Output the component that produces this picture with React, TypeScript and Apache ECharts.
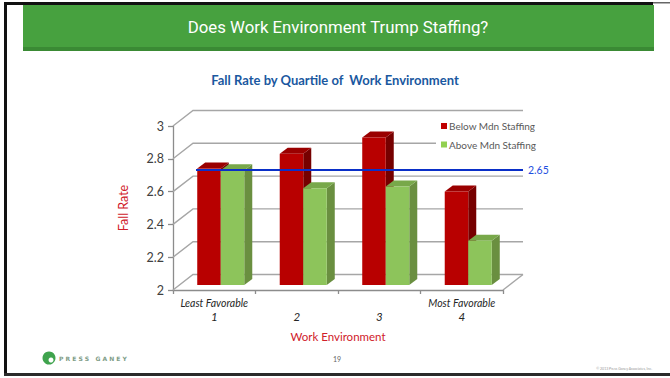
import React, { useEffect, useRef } from "react";
import * as echarts from "echarts";

const categories = ["1", "2", "3", "4"];
const categoryTopLabels = ["Least Favorable", "", "", "Most Favorable"];
const belowMdn = [2.71, 2.8, 2.9, 2.57];
const aboveMdn = [2.7, 2.59, 2.6, 2.27];
const yTicks = [2, 2.2, 2.4, 2.6, 2.8, 3];
const refValue = 2.65;

const FONT = "Lato, 'Open Sans', sans-serif";
const WALL_DX = 20;
const WALL_DY = -15.5;
const BAR_DX = 8;
const BAR_DY = -6;
const PLANE_DX = 6.5;
const PLANE_DY = -5;

function barRenderer(isRight: boolean, front: string, top: string, side: string) {
  return (params: any, api: any) => {
    const i = api.value(0);
    const v = api.value(1);
    const p = api.coord([i, v]);
    const b = api.coord([i, yTicks[0]]);
    const bw = api.size([1, 0])[0];
    const w = bw * 0.285;
    const cx = p[0] + PLANE_DX;
    const xL = isRight ? cx : cx - w;
    const xR = xL + w;
    const ty = p[1] + PLANE_DY;
    const by = b[1] + PLANE_DY;
    return {
      type: "group",
      children: [
        {
          type: "polygon",
          shape: { points: [[xR, ty], [xR + BAR_DX, ty + BAR_DY], [xR + BAR_DX, by + BAR_DY], [xR, by]] },
          style: { fill: side },
        },
        {
          type: "polygon",
          shape: { points: [[xL, ty], [xL + BAR_DX, ty + BAR_DY], [xR + BAR_DX, ty + BAR_DY], [xR, ty]] },
          style: { fill: top },
        },
        {
          type: "rect",
          shape: { x: xL, y: ty, width: w, height: by - ty },
          style: { fill: front },
        },
      ],
    };
  };
}

export default function App() {
  const ref = useRef<HTMLDivElement>(null);
  useEffect(() => {
    if (!ref.current) return;
    const chart = echarts.init(ref.current, undefined, { renderer: "svg" });
    const option: any = {
      animation: false,
      backgroundColor: "#ffffff",
      title: {
        text: "Fall Rate by Quartile of  Work Environment",
        left: "center",
        top: 68,
        textStyle: { fontFamily: FONT, fontSize: 13, fontWeight: "bold", color: "#1A58A0" },
      },
      legend: {
        data: ["Below Mdn Staffing", "Above Mdn Staffing"],
        orient: "vertical",
        left: 436,
        top: 118,
        padding: [3, 4, 3, 5],
        itemGap: 8.5,
        itemWidth: 6,
        itemHeight: 6,
        icon: "rect",
        backgroundColor: "#ffffff",
        textStyle: { fontFamily: FONT, fontSize: 10, color: "#595959", padding: [0, 0, 0, -3] },
      },
      grid: { left: 173, top: 126, width: 330, height: 164, containLabel: false },
      xAxis: {
        type: "category",
        data: categories,
        name: "Work Environment",
        nameLocation: "middle",
        nameGap: 40,
        nameTextStyle: { fontFamily: FONT, fontSize: 11.5, color: "#D0202A" },
        axisLine: { show: true, lineStyle: { color: "#8C8C8C", width: 1.3 } },
        axisTick: { show: true, length: 4, lineStyle: { color: "#8C8C8C", width: 1.3 } },
        axisLabel: {
          margin: 6,
          interval: 0,
          formatter: (val: string, idx: number) =>
            `{a|${categoryTopLabels[idx] || " "}}\n{b|${val}}`,
          rich: {
            a: { fontFamily: FONT, fontSize: 10.5, fontStyle: "italic", color: "#262626", lineHeight: 13 },
            b: { fontFamily: FONT, fontSize: 11.5, fontStyle: "italic", color: "#262626", lineHeight: 15 },
          },
        },
        splitLine: { show: false },
      },
      yAxis: {
        type: "value",
        min: 2,
        max: 3,
        interval: 0.2,
        name: "Fall Rate",
        nameLocation: "middle",
        nameGap: 43,
        nameRotate: 90,
        nameTextStyle: { fontFamily: FONT, fontSize: 12.5, color: "#D0202A" },
        axisLine: { show: true, lineStyle: { color: "#8C8C8C", width: 1.3 } },
        axisTick: { show: true, length: 5, lineStyle: { color: "#8C8C8C", width: 1.3 } },
        axisLabel: {
          margin: 9,
          fontFamily: FONT,
          fontSize: 12.5,
          color: "#404040",
          formatter: (v: number) => String(Math.round(v * 10) / 10),
        },
        splitLine: { show: false },
      },
      series: [
        {
          type: "custom",
          name: "walls",
          z: 1,
          silent: true,
          data: [[0, yTicks[0]]],
          renderItem: (params: any, api: any) => {
            const cs = params.coordSys;
            const x0 = cs.x;
            const x1 = cs.x + cs.width;
            const children: any[] = [];
            yTicks.forEach((t) => {
              const y = api.coord([0, t])[1];
              children.push({
                type: "polyline",
                shape: { points: [[x0, y], [x0 + WALL_DX, y + WALL_DY], [x1 + WALL_DX, y + WALL_DY]] },
                style: { stroke: "#A6A6A6", lineWidth: 1.4, fill: null },
              });
            });
            const yb = api.coord([0, yTicks[0]])[1];
            children.push({
              type: "line",
              shape: { x1: x1, y1: yb, x2: x1 + WALL_DX, y2: yb + WALL_DY },
              style: { stroke: "#A6A6A6", lineWidth: 1.4 },
            });
            return { type: "group", children };
          },
        },
        {
          type: "custom",
          name: "Below Mdn Staffing",
          z: 2,
          itemStyle: { color: "#C00000" },
          data: belowMdn.map((v, i) => [i, v]),
          renderItem: barRenderer(false, "#B80000", "#9A0000", "#760000"),
        },
        {
          type: "custom",
          name: "Above Mdn Staffing",
          z: 3,
          itemStyle: { color: "#92D050" },
          data: aboveMdn.map((v, i) => [i, v]),
          renderItem: barRenderer(true, "#8DC45B", "#78A84A", "#6A8F40"),
        },
        {
          type: "custom",
          name: "reference",
          z: 4,
          silent: true,
          data: [[0, refValue]],
          renderItem: (params: any, api: any) => {
            const cs = params.coordSys;
            const y = api.coord([0, api.value(1)])[1] - 13.5;
            const xs = cs.x + 23;
            const xe = cs.x + cs.width + WALL_DX;
            return {
              type: "group",
              children: [
                {
                  type: "line",
                  shape: { x1: xs, y1: y, x2: xe, y2: y },
                  style: { stroke: "#0A2FC8", lineWidth: 2 },
                },
                {
                  type: "text",
                  x: xe + 5,
                  y: y,
                  style: {
                    text: String(refValue),
                    fill: "#1F4FE0",
                    fontFamily: FONT,
                    fontSize: 10.5,
                    verticalAlign: "middle",
                    align: "left",
                  },
                },
              ],
            };
          },
        },
      ],
      graphic: [
        { type: "rect", shape: { x: 23, y: 5, width: 631, height: 43 }, style: { fill: "#47A13F" }, z: 10 },
        { type: "rect", shape: { x: 23, y: 47, width: 631, height: 4 }, style: { fill: "#3A8A34" }, z: 10 },
        {
          type: "text",
          x: 338,
          y: 27,
          z: 11,
          style: {
            text: "Does Work Environment Trump Staffing?",
            fill: "#ffffff",
            fontFamily: "Roboto, sans-serif",
            fontSize: 16.8,
            align: "center",
            verticalAlign: "middle",
          },
        },
        { type: "rect", shape: { x: 4, y: 2, width: 649, height: 3 }, style: { fill: "#111111" }, z: 12 },
        { type: "rect", shape: { x: 653, y: 2, width: 17, height: 1.5 }, style: { fill: "#666666" }, z: 12 },
        { type: "rect", shape: { x: 4, y: 2, width: 3, height: 374 }, style: { fill: "#111111" }, z: 12 },
        { type: "rect", shape: { x: 4, y: 373, width: 666, height: 3 }, style: { fill: "#2a2a2a" }, z: 12 },
        { type: "circle", shape: { cx: 49, cy: 358, r: 6.5 }, style: { fill: "#3FA34D" }, z: 12 },
        { type: "circle", shape: { cx: 51, cy: 360, r: 2.5 }, style: { fill: "#ffffff" }, z: 12 },
        {
          type: "text",
          x: 59,
          y: 358,
          z: 12,
          style: {
            text: "P R E S S   G A N E Y",
            fill: "#7E9C86",
            fontFamily: "'DejaVu Sans', sans-serif",
            fontSize: 6,
            fontWeight: "bold",
            verticalAlign: "middle",
            align: "left",
          },
        },
        {
          type: "text",
          x: 337,
          y: 359,
          z: 12,
          style: { text: "19", fill: "#666666", fontFamily: FONT, fontSize: 7, align: "center", verticalAlign: "middle" },
        },
        {
          type: "text",
          x: 652,
          y: 369,
          z: 12,
          style: {
            text: "© 2013 Press Ganey Associates, Inc.",
            fill: "#999999",
            fontFamily: FONT,
            fontSize: 3.5,
            align: "right",
            verticalAlign: "middle",
          },
        },
      ],
    };
    chart.setOption(option);
    return () => chart.dispose();
  }, []);
  return (
    <div
      ref={ref}
      style={{ position: "absolute", left: 0, top: 0, width: 670, height: 378 }}
    />
  );
}
